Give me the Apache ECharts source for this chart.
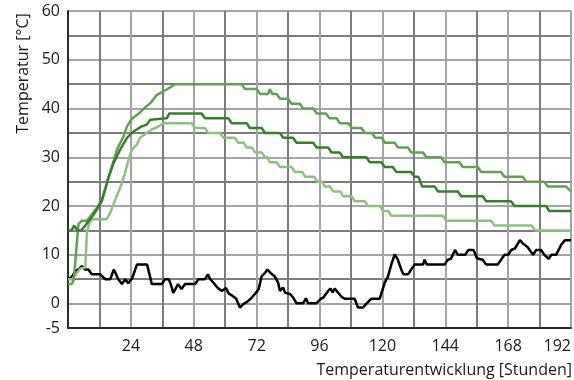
<!DOCTYPE html>
<html>
<head>
<meta charset="utf-8">
<script src="https://cdn.jsdelivr.net/npm/echarts@6/dist/echarts.min.js"></script>
<style>
  html, body { margin: 0; padding: 0; background: #fff; }
  #chart { width: 574px; height: 380px; }
</style>
</head>
<body>
<div id="chart"></div>
<script>
// Axis ranges and tick labels
const hourMin = 0, hourMax = 192, hourStep = 12;
const tempMin = -5, tempMax = 60, tempStep = 5;
const xTickLabels = [24, 48, 72, 96, 120, 144, 168, 192];
const yTickLabels = [-5, 0, 10, 20, 30, 40, 50, 60];

// Temperature curves: [hour, °C]
const curveUpper = [
  [0,4],[1.5,4],[2.2,5],[4,16.3],[5.3,17],[7.2,17],[9.1,18.3],[11,19.6],[12.9,21.3],[14.9,24.8],
  [16.8,28.2],[18.7,31.6],[21.2,34.3],[22.5,36.3],[24.4,37.9],[27.5,39.2],[29,40],[31.4,41.1],
  [33.9,42.8],[37.7,43.9],[40.9,45],[66.3,45],[67.5,44],[72,44],[73.3,43],[76.4,43],[77,44],
  [78,43],[79.6,43],[80.9,42],[84,42],[85.3,41],[88.5,41],[89.8,40],[93.6,40],[94.9,39],
  [98.5,39],[99.8,38],[102.5,38],[103.7,37],[107,37],[108.3,36],[112,36],[113.3,35],[116,35],
  [117.3,34],[119.7,34],[121,33],[124.7,33],[126,32],[129.8,32],[131,31],[135.5,31],[136.8,30],
  [142.4,30],[143.7,29],[149.4,29],[150.7,28],[156.4,28],[157.7,27],[165.3,27],[166.6,26],
  [173.6,26],[174.9,25],[181.8,25],[183.1,24],[190.1,24],[192,23]
];
const curveMiddle = [
  [0,15],[1.3,15],[2.4,16],[3.6,15],[5,15],[6.6,16],[8,17],[9.5,18],[11,19.3],[12.9,21],
  [14.2,23.4],[15.5,26],[17.4,28.8],[19.9,31.6],[22.5,34],[25,35.3],[28,36.3],[30,36.7],
  [31.4,37.7],[32,38],[37.7,38],[38.7,39],[51,39],[52.3,38],[61.2,38],[62.5,37],[68.2,37],
  [69.4,36],[73.9,36],[75.2,35],[80.9,35],[82.1,34],[85.9,34],[87.2,33],[93.6,33],[94.9,32],
  [99.3,32],[100.6,31],[103.7,31],[105,30],[113.9,30],[115.2,29],[119.6,29],[120.9,28],
  [124,28],[125.3,27],[131,27],[132.3,26],[133.8,26],[135.2,24],[140,24],[141.2,23],
  [148.8,23],[150.1,22],[158.3,22],[159.6,21],[169.1,21],[170.4,20],[182.5,20],[183.7,19],[192,19]
];
const curveLower = [
  [0,5],[1.5,5],[3,6],[4.7,7.2],[6.6,7.4],[7.2,14.5],[8.2,16.6],[9.2,17.3],[14.8,17.3],
  [15.5,17],[16.1,18.6],[18,21.3],[19.9,23.7],[21.8,26.8],[23.1,29.5],[24.4,31.6],[26.3,32.6],
  [27.5,34],[30,35],[32,35.7],[34.5,36.3],[36.4,37],[47.2,37],[48.5,36],[52.3,36],[53.5,35],
  [58,35],[59.3,34],[63.7,34],[65,33],[67,33],[68.2,32],[70.2,32],[71.4,31],[74,31],[75.2,30],
  [76,30],[77.1,29],[79.6,29],[80.9,28],[85.3,28],[86.6,27],[89.5,27],[90.5,26],[94,26],
  [95.3,25],[97,25],[98,24],[100,24],[101.2,23],[104,23],[105,22],[108.3,22],[109.4,21],
  [113.3,21],[114.5,20],[119,20],[120.2,19],[122.2,19],[123.4,18],[143.1,18],[144.4,17],
  [161.5,17],[162.8,16],[177,16],[178.3,15],[192,15]
];
const curveAmbient = [
  [0,5],[1.5,5.5],[2.8,6.7],[4,7],[5.3,7.7],[6.5,7],[7.8,7],[9.1,6],[12.3,6],[14.2,5],[16.1,5],
  [17.5,7],[19.2,5],[20.6,4],[21.8,5],[23,4.2],[24.5,5.2],[26.3,8],[30.2,8],[32,4],[35.8,4],
  [37,5],[38.5,5],[39.2,4],[40.2,2.2],[42,4],[43.3,3],[44.7,4],[48.5,4],[49.8,5],[52.3,5],
  [53.4,6],[54.3,5],[55.5,4.3],[57,3.3],[58.7,2.6],[60.3,3.2],[61.3,2.1],[62.5,1.7],[64.2,1],
  [65.6,-0.8],[66.9,-0.1],[68.5,0.4],[70.1,1.2],[72,2.4],[72.8,3],[73.9,5.6],[75.2,6.3],
  [76.1,7],[77.3,6.3],[79,5.5],[80.2,4.3],[80.9,2.6],[82.1,3.3],[82.9,2.2],[84.7,2],[86,1.2],
  [87.2,0.1],[89.8,0.1],[90.8,1.1],[91.6,0.1],[94.9,0.1],[96.5,1],[97.4,1.2],[99.3,2.6],
  [100.2,3.1],[101,2.3],[101.8,3.1],[103,2.3],[104.4,1.4],[105.6,1],[109.4,1],[110.7,-0.8],
  [112.6,-0.8],[113.9,0],[115.8,1],[119,1],[120.9,4.3],[122.1,5.5],[123.4,8],[124.7,10.1],
  [125.9,9],[127.2,7],[128,6],[129.8,6],[131,7],[132.3,8],[135.5,8],[136.1,9],[137,8],
  [143.7,8],[145,9],[146.2,9.2],[147.7,11],[148.8,10],[151.6,10],[152.8,11],[154.8,11],
  [156.1,9.3],[158.3,9],[159.6,8],[164,8],[165.3,9],[166.6,10],[168,10],[169.2,11],[170.6,11.3],
  [172.5,13],[173.7,12.3],[175.4,11.6],[177.5,10],[178.7,11],[180.6,11],[181.8,10],[183.5,9.2],
  [184.5,10],[186.3,10],[188.2,12],[189.6,13],[192,13]
];

const FONT = '"Open Sans", "Noto Sans", sans-serif';
const majorGrid = '#a4a4a4';
const minorGrid = '#7c7c7c';

const chart = echarts.init(document.getElementById('chart'));

chart.setOption({
  animation: false,
  grid: { left: 68, right: 2, top: 11, bottom: 52 },
  xAxis: {
    type: 'value', min: hourMin, max: hourMax, interval: hourStep,
    axisTick: { show: false },
    axisLine: { show: true, onZero: false, lineStyle: { color: '#2b2b2b', width: 2 } },
    // vertical grid every 12 h; the labelled 24 h marks are lighter
    splitLine: { show: true, lineStyle: { color: [majorGrid, minorGrid], width: 2 } },
    axisLabel: {
      margin: 10, color: '#1a1a1a', fontSize: 16, fontFamily: FONT,
      alignMaxLabel: 'right',
      formatter: v => (xTickLabels.indexOf(v) >= 0 ? String(v) : '')
    }
  },
  yAxis: {
    type: 'value', min: tempMin, max: tempMax, interval: tempStep,
    axisTick: { show: false },
    axisLine: { show: true, onZero: false, lineStyle: { color: '#2b2b2b', width: 2 } },
    // horizontal grid every 5 °C; the labelled 10 °C steps are lighter
    splitLine: { show: true, lineStyle: { color: [minorGrid, majorGrid], width: 2 } },
    axisLabel: {
      margin: 8, color: '#1a1a1a', fontSize: 16, fontFamily: FONT,
      formatter: v => (yTickLabels.indexOf(v) >= 0 ? String(v) : '')
    }
  },
  graphic: [
    {
      type: 'text', x: 23.5, y: 73.5, rotation: Math.PI / 2,
      style: {
        text: 'Temperatur [°C]', fill: '#1a1a1a', font: '16px ' + FONT,
        textAlign: 'center', textVerticalAlign: 'middle'
      }
    },
    {
      type: 'text', x: 572, y: 370,
      style: {
        text: 'Temperaturentwicklung [Stunden]', fill: '#1a1a1a', font: '16px ' + FONT,
        textAlign: 'right', textVerticalAlign: 'middle'
      }
    }
  ],
  series: [
    { type: 'line', data: curveAmbient, showSymbol: false, lineStyle: { color: '#000000', width: 2.5 } },
    { type: 'line', data: curveLower, showSymbol: false, lineStyle: { color: '#8fc083', width: 2.5 } },
    { type: 'line', data: curveUpper, showSymbol: false, lineStyle: { color: '#62a056', width: 2.5 } },
    { type: 'line', data: curveMiddle, showSymbol: false, lineStyle: { color: '#3a7e2d', width: 2.5 } }
  ]
});
</script>
</body>
</html>
